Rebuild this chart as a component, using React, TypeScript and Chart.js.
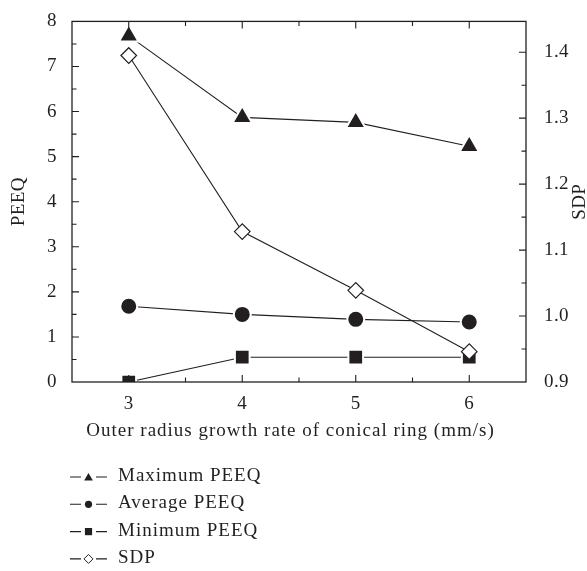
import { useEffect, useRef } from 'react';
import { Chart, registerables } from 'chart.js';

Chart.register(...registerables);

const growthRates = [3, 4, 5, 6];
const maximumPEEQ = [7.68, 5.87, 5.76, 5.23];
const averagePEEQ = [1.68, 1.5, 1.39, 1.33];
const minimumPEEQ = [0, 0.55, 0.55, 0.55];
const sdpValues = [1.395, 1.128, 1.039, 0.946];
const xTickValues = [3, 4, 5, 6];
const peeqTickValues = [0, 1, 2, 3, 4, 5, 6, 7, 8];
const sdpTickValues = [0.9, 1.0, 1.1, 1.2, 1.3, 1.4];
const seriesLabels = ['Maximum PEEQ', 'Average PEEQ', 'Minimum PEEQ', 'SDP'];
const xTitle = 'Outer radius growth rate of conical ring (mm/s)';
const yTitle = 'PEEQ';
const y1Title = 'SDP';

const INK = '#231f20';
const FONT_FAMILY = '"Liberation Serif", "DejaVu Serif", serif';
const FONT_SIZE = 19;
const TICK_SPACING = '0.4px';
const TEXT_SPACING = '1px';

function toPoints(values: number[]) {
  return values.map((v, i) => ({ x: growthRates[i], y: v }));
}

function drawMarker(ctx: CanvasRenderingContext2D, style: string, x: number, y: number, r: number) {
  ctx.beginPath();
  if (style === 'triangle') {
    ctx.moveTo(x, y - r);
    ctx.lineTo(x + r * Math.sin((2 * Math.PI) / 3), y - r * Math.cos((2 * Math.PI) / 3));
    ctx.lineTo(x + r * Math.sin((4 * Math.PI) / 3), y - r * Math.cos((4 * Math.PI) / 3));
    ctx.closePath();
    ctx.fillStyle = INK;
    ctx.fill();
  } else if (style === 'circle') {
    ctx.arc(x, y, r, 0, Math.PI * 2);
    ctx.fillStyle = INK;
    ctx.fill();
  } else if (style === 'rect') {
    ctx.rect(x - r, y - r, 2 * r, 2 * r);
    ctx.fillStyle = INK;
    ctx.fill();
  } else {
    ctx.moveTo(x - r, y);
    ctx.lineTo(x, y - r);
    ctx.lineTo(x + r, y);
    ctx.lineTo(x, y + r);
    ctx.closePath();
    ctx.fillStyle = '#fff';
    ctx.fill();
    ctx.lineWidth = 1;
    ctx.strokeStyle = INK;
    ctx.stroke();
  }
}

const spacingPlugin = {
  id: 'spacing',
  beforeUpdate(chart: any) {
    chart.ctx.letterSpacing = TICK_SPACING;
  },
  beforeDraw(chart: any) {
    chart.ctx.letterSpacing = TICK_SPACING;
  },
};

const decorPlugin = {
  id: 'decor',
  afterDraw(chart: any) {
    const { ctx, chartArea, scales } = chart;
    const { left, right, top, bottom } = chartArea;
    ctx.save();
    ctx.strokeStyle = INK;
    ctx.lineWidth = 1.3;
    ctx.strokeRect(left, top, right - left, bottom - top);

    ctx.lineWidth = 1.1;
    ctx.beginPath();
    const xs = scales.x;
    for (let k = 0; k <= 8; k++) {
      const v = 2.5 + k * 0.5;
      const px = xs.getPixelForValue(v);
      if (px <= left + 1 || px >= right - 1) continue;
      const len = k % 2 === 1 ? 7 : 4.5;
      ctx.moveTo(px, bottom);
      ctx.lineTo(px, bottom - len);
      ctx.moveTo(px, top);
      ctx.lineTo(px, top + len);
    }
    const ys = scales.y;
    for (let k = 1; k < 16; k++) {
      const py = ys.getPixelForValue(k * 0.5);
      const len = k % 2 === 0 ? 7 : 4.5;
      ctx.moveTo(left, py);
      ctx.lineTo(left + len, py);
    }
    const y1 = scales.y1;
    for (let k = 1; k <= 10; k++) {
      const v = 0.9 + k * 0.05;
      const py = y1.getPixelForValue(v);
      const len = k % 2 === 0 ? 7 : 4.5;
      ctx.moveTo(right, py);
      ctx.lineTo(right - len, py);
    }
    ctx.stroke();

    ctx.fillStyle = INK;
    ctx.font = `${FONT_SIZE}px ${FONT_FAMILY}`;
    ctx.textAlign = 'center';
    ctx.textBaseline = 'middle';

    // x axis title
    ctx.letterSpacing = TEXT_SPACING;
    ctx.fillText(xTitle, 290.5, 431.5);

    // right axis title
    ctx.letterSpacing = TICK_SPACING;
    ctx.save();
    ctx.translate(580, (top + bottom) / 2);
    ctx.rotate(-Math.PI / 2);
    ctx.fillText(y1Title, 0, 0);
    ctx.restore();

    // legend
    ctx.letterSpacing = TEXT_SPACING;
    chart.data.datasets.forEach((ds: any, i: number) => {
      const yRow = 477 + i * 27.3;
      ctx.lineWidth = 1.1;
      ctx.strokeStyle = INK;
      ctx.beginPath();
      ctx.moveTo(70, yRow);
      ctx.lineTo(81, yRow);
      ctx.moveTo(96, yRow);
      ctx.lineTo(107, yRow);
      ctx.stroke();
      const style = ds.pointStyle;
      const r = style === 'triangle' ? 5 : style === 'rectRot' ? 4.5 : 3.6;
      drawMarker(ctx, style, 88.5, style === 'triangle' ? yRow + 1 : yRow, r);
      ctx.fillStyle = INK;
      ctx.font = `${FONT_SIZE}px ${FONT_FAMILY}`;
      ctx.textAlign = 'left';
      ctx.textBaseline = 'middle';
      ctx.fillText(ds.label, 118, yRow - 1);
    });
    ctx.restore();
  },
};

export default function App() {
  const canvasRef = useRef<HTMLCanvasElement | null>(null);

  useEffect(() => {
    document.body.style.margin = '0';
    const canvas = canvasRef.current;
    if (!canvas) return;
    const tickFont = { family: FONT_FAMILY, size: FONT_SIZE };
    const lineBase = {
      borderColor: INK,
      borderWidth: 1.1,
      tension: 0,
      fill: false,
    };
    const chart = new Chart(canvas, {
      type: 'line',
      data: {
        datasets: [
          {
            ...lineBase,
            label: seriesLabels[0],
            data: toPoints(maximumPEEQ),
            yAxisID: 'y',
            order: 0,
            pointStyle: 'triangle',
            pointRadius: 11.3,
            pointBackgroundColor: INK,
            pointBorderColor: '#fff',
            pointBorderWidth: 2,
          },
          {
            ...lineBase,
            label: seriesLabels[1],
            data: toPoints(averagePEEQ),
            yAxisID: 'y',
            order: 1,
            pointStyle: 'circle',
            pointRadius: 8.5,
            pointBackgroundColor: INK,
            pointBorderColor: '#fff',
            pointBorderWidth: 2,
          },
          {
            ...lineBase,
            label: seriesLabels[2],
            data: toPoints(minimumPEEQ),
            yAxisID: 'y',
            order: 2,
            pointStyle: 'rect',
            pointRadius: 10.4,
            pointBackgroundColor: INK,
            pointBorderColor: '#fff',
            pointBorderWidth: 2,
          },
          {
            ...lineBase,
            label: seriesLabels[3],
            data: toPoints(sdpValues),
            yAxisID: 'y1',
            order: -1,
            pointStyle: 'rectRot',
            pointRadius: 7.8,
            pointBackgroundColor: '#fff',
            pointBorderColor: INK,
            pointBorderWidth: 1.2,
          },
        ],
      },
      options: {
        responsive: false,
        animation: false,
        events: [],
        layout: { padding: { top: 13, bottom: 114, left: 0, right: 0 } },
        plugins: {
          legend: { display: false },
          tooltip: { enabled: false },
        },
        scales: {
          x: {
            type: 'linear',
            min: 2.5,
            max: 6.5,
            grid: { display: false },
            border: { display: false },
            afterBuildTicks: (s: any) => {
              s.ticks = xTickValues.map((v) => ({ value: v }));
            },
            afterFit: (s: any) => {
              s.height = 75;
            },
            ticks: { font: tickFont, color: INK, padding: 3, maxRotation: 0 },
            title: { display: false },
          },
          y: {
            type: 'linear',
            position: 'left',
            min: 0,
            max: 8,
            grid: { display: false },
            border: { display: false },
            afterBuildTicks: (s: any) => {
              s.ticks = peeqTickValues.map((v) => ({ value: v }));
            },
            afterFit: (s: any) => {
              s.width = 72;
            },
            ticks: { font: tickFont, color: INK, padding: 7 },
            title: {
              display: true,
              text: yTitle,
              font: tickFont,
              color: INK,
              padding: { top: 7.5, bottom: 0 },
            },
          },
          y1: {
            type: 'linear',
            position: 'right',
            min: 0.9,
            max: 1.4467,
            grid: { display: false },
            border: { display: false },
            afterBuildTicks: (s: any) => {
              s.ticks = sdpTickValues.map((v) => ({ value: v }));
            },
            afterFit: (s: any) => {
              s.width = 61;
            },
            ticks: {
              font: tickFont,
              color: INK,
              padding: 10,
              callback: (v: any) => Number(v).toFixed(1),
            },
          },
        },
      },
      plugins: [spacingPlugin, decorPlugin],
    } as any);
    return () => chart.destroy();
  }, []);

  return (
    <div style={{ width: 587, height: 571 }}>
      <canvas ref={canvasRef} width={587} height={571} />
    </div>
  );
}
